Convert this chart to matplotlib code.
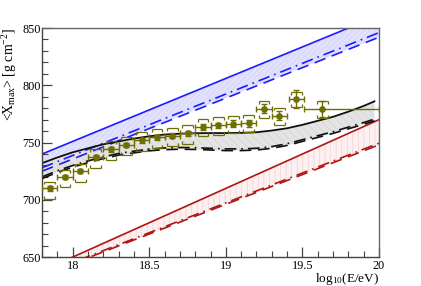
import numpy as np
import matplotlib
matplotlib.use('Agg')
import matplotlib.pyplot as plt

plt.rcParams['font.family'] = ['Liberation Serif', 'DejaVu Serif']
plt.rcParams['mathtext.fontset'] = 'custom'
plt.rcParams['mathtext.rm'] = 'Liberation Serif'
plt.rcParams['mathtext.it'] = 'Liberation Serif:italic'

# measured <Xmax> points
lgE = [17.85, 17.95, 18.05, 18.15, 18.25, 18.35, 18.45, 18.55, 18.65, 18.75,
       18.85, 18.95, 19.05, 19.15, 19.25, 19.35, 19.46, 19.63]
xmax = [710, 720, 725, 737, 744, 748, 752, 754.5, 756, 758,
        763.5, 765, 766.5, 767, 779.5, 773.5, 788, 779.5]
stat = [2, 2, 2, 2, 2, 2, 2, 2, 2, 2, 2.5, 2.5, 3, 3, 4, 4, 8, 7]
sys_up = [6, 6, 6, 7, 7, 7, 7, 7, 7, 7, 7, 7, 7, 7, 7, 7, 6, 7]
sys_dn = [9, 9, 9, 9, 9, 9, 9, 9, 9, 9, 8, 8, 8, 8, 8, 8, 7, 8]
bin_lo = [0.05] * 17 + [0.12]
bin_hi = [0.05] * 17 + [0.37]

# proton (blue) band
p_x = [17.8, 20.0]
p_solid = [740, 861]
p_dashdot = [728, 846]
p_dashed = [725, 842]

# iron (red) band
fe_x = [17.9, 20.0]
fe_solid = [644, 770]
fe_dashdot = [640, 749.5]
fe_dashed = [639, 748]

# mixed composition (black) band
mix_x = [17.8, 17.9, 18.0, 18.1, 18.2, 18.3, 18.4, 18.5, 18.6, 18.7, 18.8, 18.9,
         19.0, 19.1, 19.2, 19.3, 19.4, 19.5, 19.6, 19.7, 19.8, 19.9, 19.97]
mix_solid = [732, 737, 741.5, 745, 748.5, 751, 753.5, 755.5, 757, 757.8, 758.2, 758.3,
             758.3, 758.5, 759, 760.5, 762.5, 765.5, 769, 772.5, 777, 782, 786]
mix_dashdot = [720, 725.5, 730, 734, 737.5, 740.5, 742.5, 744.3, 745.3, 745.7, 745.5, 745,
               744.5, 744.5, 745, 746.5, 749, 752.5, 756, 759.5, 763.5, 767.5, 770.5]
mix_dashed = [718.5, 724, 728.5, 732.5, 736, 739, 741, 742.8, 743.8, 744.2, 744, 743.5,
              743, 743, 743.5, 745, 747.5, 751, 754.5, 758, 762, 766, 769]

plt.rcParams['hatch.linewidth'] = 0.5

fig = plt.figure(figsize=(4.21, 2.86), dpi=100)
ax = fig.add_axes([0.0998, 0.101, 0.8005, 0.801])

blue = '#1c1cff'
red = '#b01515'
olive = '#6e6e00'

# bands
ax.fill_between(p_x, p_dashed, p_solid, facecolor='#e2e2ff', edgecolor='#d2d2f8',
                hatch='//////', linewidth=0, zorder=1)
ax.fill_between(fe_x, fe_dashed, fe_solid, facecolor='#fcf0f0', edgecolor='#f2d2d2',
                hatch='|||', linewidth=0, zorder=1)
ax.fill_between(mix_x, mix_dashed, mix_solid, facecolor='#e4e4e4', edgecolor='#d4d4d4',
                hatch='\\\\\\\\', linewidth=0, zorder=1)

# band lines
ax.plot(p_x, p_solid, color=blue, lw=1.2, zorder=2)
ax.plot(p_x, p_dashdot, color=blue, lw=1.2, dashes=(7, 3, 1, 3), zorder=2)
ax.plot(p_x, p_dashed, color=blue, lw=1.2, dashes=(7, 4), zorder=2)
ax.plot(fe_x, fe_solid, color=red, lw=1.2, zorder=2)
ax.plot(fe_x, fe_dashdot, color=red, lw=1.2, dashes=(7, 3, 1, 3), zorder=2)
ax.plot(fe_x, fe_dashed, color=red, lw=1.2, dashes=(7, 4), zorder=2)
ax.plot(mix_x, mix_solid, color='#111111', lw=1.3, zorder=2)
ax.plot(mix_x, mix_dashdot, color='#111111', lw=1.2, dashes=(7, 3, 1, 3), zorder=2)
ax.plot(mix_x, mix_dashed, color='#111111', lw=1.2, dashes=(7, 4), zorder=2)

# data points with stat errors
ax.errorbar(lgE, xmax, yerr=stat, xerr=[bin_lo, bin_hi], fmt='o', color=olive,
            ms=3.8, elinewidth=1.0, capsize=2, capthick=1.0, zorder=4)

# systematic brackets
x = np.array(lgE)
y = np.array(xmax)
top = y + np.array(sys_up)
bot = y - np.array(sys_dn)
hw = 0.035
tick = 2.5
ax.hlines(top, x - hw, x + hw, color=olive, lw=0.9, zorder=3)
ax.hlines(bot, x - hw, x + hw, color=olive, lw=0.9, zorder=3)
for xe in (x - hw, x + hw):
    ax.vlines(xe, top - tick, top, color=olive, lw=0.9, zorder=3)
    ax.vlines(xe, bot, bot + tick, color=olive, lw=0.9, zorder=3)

ax.set_xlim(17.8, 20.0)
ax.set_ylim(650, 850)
ax.set_xticks([18, 18.5, 19, 19.5, 20])
ax.set_xticklabels(['18', '18.5', '19', '19.5', '20'])
ax.set_yticks([650, 700, 750, 800, 850])
ax.set_xticks(np.arange(17.8, 20.0, 0.1), minor=True)
ax.set_yticks(np.arange(650, 851, 10), minor=True)
ax.tick_params(which='both', direction='in', top=False, right=False,
               labelsize=8.8, color='#444444', pad=2)
ax.tick_params(which='major', length=7, width=0.9)
ax.tick_params(which='minor', length=4, width=0.8)
ax.tick_params(axis='y', pad=1)

for s in ['left', 'bottom']:
    ax.spines[s].set_color('#444444')
    ax.spines[s].set_linewidth(1.0)
for s in ['top', 'right']:
    ax.spines[s].set_color('#666666')
    ax.spines[s].set_linewidth(1.0)

ax.set_ylabel(r'<X$_{\rm max}$> [g cm$^{-2}$]', fontsize=10, loc='top', labelpad=2)
ax.set_xlabel(r'log$_{10}$(E/eV)', fontsize=9.5, loc='right', labelpad=-1)

fig.savefig('out.png', dpi=100)
